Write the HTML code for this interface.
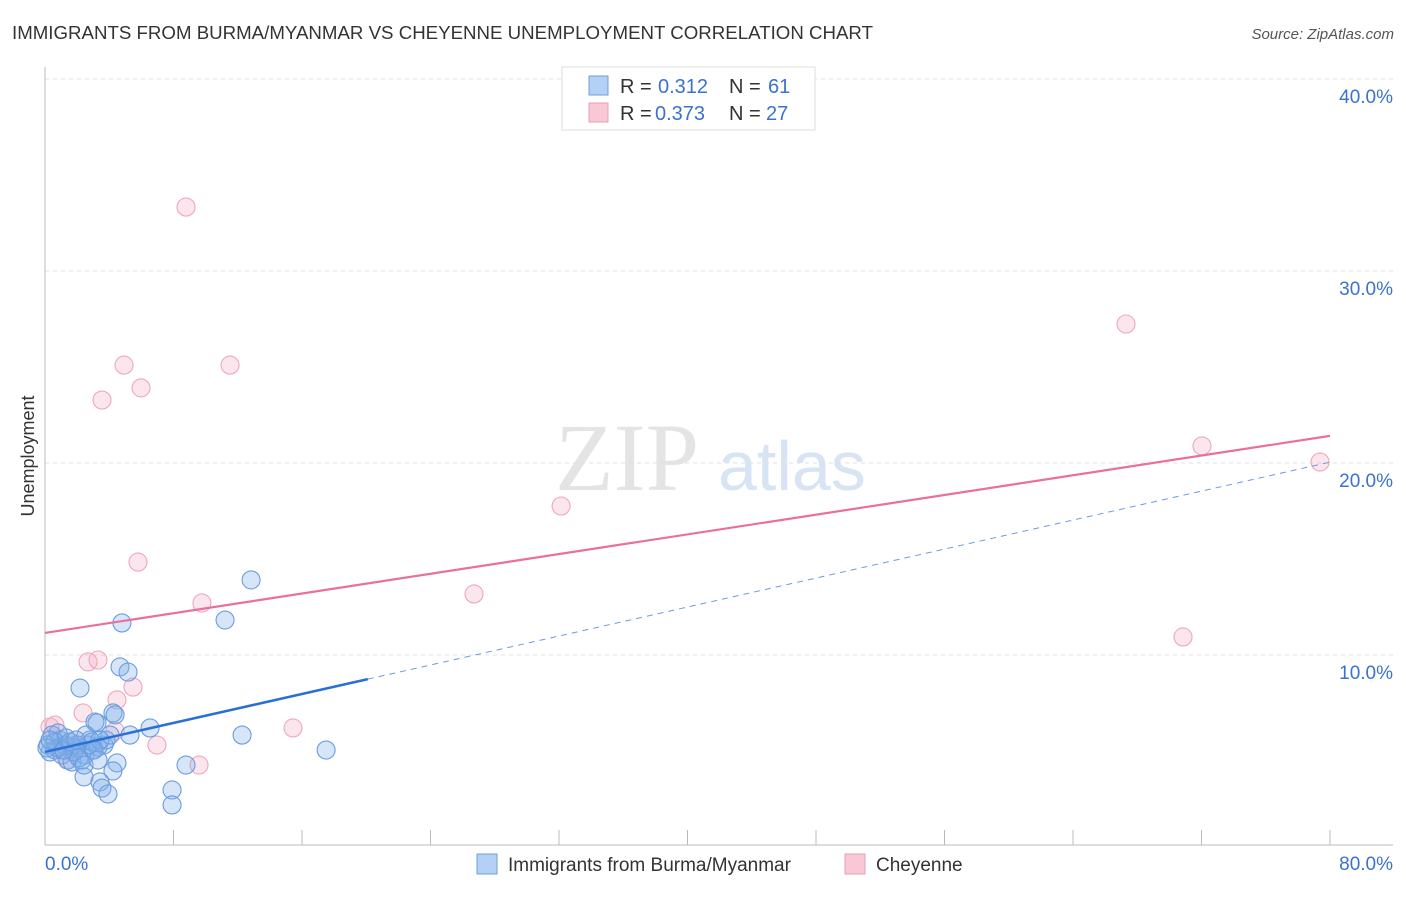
<!DOCTYPE html>
<html><head><meta charset="utf-8"><style>
body{margin:0;background:#fff;font-family:"Liberation Sans",sans-serif;}
</style></head><body>
<svg id="c" width="1406" height="892" xmlns="http://www.w3.org/2000/svg" font-family="Liberation Sans, sans-serif">
<text x="12" y="39" font-size="18" fill="#333" textLength="861" lengthAdjust="spacingAndGlyphs">IMMIGRANTS FROM BURMA/MYANMAR VS CHEYENNE UNEMPLOYMENT CORRELATION CHART</text>
<text x="1394" y="39" font-size="15" fill="#555" font-style="italic" text-anchor="end">Source: ZipAtlas.com</text>
<text x="555" y="490" font-size="96" fill="#e4e4e4" font-family="Liberation Serif, serif">ZIP</text>
<text x="718" y="490" font-size="70" fill="#d8e4f4">atlas</text>
<text transform="translate(34,456) rotate(-90)" font-size="18" fill="#333" text-anchor="middle">Unemployment</text>
<g id="grid"></g><g id="axes"></g><g id="pts"></g><g id="lines"></g>
<g>
<rect x="562" y="67" width="253" height="63" fill="#fff" stroke="#ddd"/>
<rect x="589" y="76" width="19" height="19" fill="#b4d0f4" stroke="#6d9de0"/>
<rect x="589" y="103" width="19" height="19" fill="#f9c8d6" stroke="#eb9cb4"/>
<g font-size="20" fill="#333">
<text x="620" y="93">R =</text><text x="658" y="93" fill="#3a72d0">0.312</text><text x="729" y="93">N =</text><text x="768" y="93" fill="#3a72d0">61</text></g>
<g font-size="20" fill="#333">
<text x="620" y="120">R =</text><text x="655" y="120" fill="#3a72d0">0.373</text><text x="729" y="120">N =</text><text x="766" y="120" fill="#3a72d0">27</text></g>
</g>
<g>
<rect x="477" y="854" width="20" height="20" fill="#b4d0f4" stroke="#6d9de0"/>
<text x="508" y="871" font-size="19" fill="#333">Immigrants from Burma/Myanmar</text>
<rect x="845" y="854" width="20" height="20" fill="#f9c8d6" stroke="#eb9cb4"/>
<text x="876" y="871" font-size="19" fill="#333">Cheyenne</text>
</g>
</svg>
<script>
const blueX=[2.18,4.79,12.83,11.21,4.67,5.17,4.23,4.36,3.24,3.11,6.54,5.29,12.27,17.50,8.78,4.48,4.23,2.43,3.42,3.55,3.92,7.91,7.91,0.93,1.25,1.56,1.87,0.62,0.31,0.19,0.44,0.81,1.06,1.43,1.68,2.05,2.30,2.49,2.68,2.80,2.99,3.30,3.67,3.80,4.05,0.62,0.81,1.31,1.81,2.12,2.55,2.93,3.42,0.12,0.31,1.18,1.56,1.93,2.43,3.05,3.30];
const blueY=[8.28,11.67,13.91,11.82,9.38,9.11,6.98,6.88,6.46,6.51,6.20,5.83,5.83,5.05,4.27,4.38,3.96,3.65,3.39,3.07,2.76,2.97,2.19,5.57,5.31,5.21,5.16,5.05,4.95,5.31,5.83,5.94,4.79,4.53,4.43,5.31,4.53,4.79,5.31,5.57,5.05,5.21,5.31,5.57,5.83,5.47,5.16,5.68,4.95,4.64,5.83,5.47,5.57,5.16,5.57,5.05,5.47,5.57,4.27,5.05,4.53];
const pinkX=[8.78,4.92,11.52,5.98,3.55,67.30,72.03,79.38,32.13,5.79,26.71,9.77,70.85,3.30,2.68,4.48,5.48,2.37,15.44,6.97,9.59,0.62,0.31,1.37,1.87,4.36,1.06];
const pinkY=[33.33,25.10,25.10,23.91,23.28,27.24,20.89,20.05,17.76,14.84,13.18,12.71,10.94,9.74,9.64,7.66,8.33,6.98,6.20,5.31,4.27,6.35,6.25,4.53,5.31,6.04,5.05];
const blueTrend=[4.95,0.1887];
const pinkTrend=[11.15,0.1283];
const xTicks=[0,80];
const yTicks=[10,20,30,40];
const NS="http://www.w3.org/2000/svg";
const X=v=>45+v*(1285/80), Y=v=>847-v*19.2;
function mk(p,t,a){const e=document.createElementNS(NS,t);for(const k in a)e.setAttribute(k,a[k]);document.getElementById(p).appendChild(e);return e;}
yTicks.forEach(t=>{
 const l=mk('grid','line',{x1:45,x2:1393,y1:Y(t),y2:Y(t),stroke:'#e0e0e0','stroke-dasharray':'4,4'});
 
 
 const tx=mk('grid','text',{x:1393,y:Y(t)+24,'font-size':19,fill:'#3a72d0','text-anchor':'end'});tx.textContent=t.toFixed(1)+'%';
 
 
});
let a=mk('axes','line',{x1:45,x2:45,y1:67,y2:845,stroke:'#bbb'});


a=mk('axes','line',{x1:45,x2:1393,y1:845,y2:845,stroke:'#bbb'});


for(let i=0;i<=10;i++){const t=mk('axes','line',{x1:X(i*8),x2:X(i*8),y1:830,y2:845,stroke:'#bbb'});
 
 }
xTicks.forEach((t,i)=>{const tx=mk('axes','text',{x:i?1393:45,y:870,'font-size':19,fill:'#3a72d0','text-anchor':i?'end':'start'});tx.textContent=t.toFixed(1)+'%';
 
 });
pinkX.forEach((x,i)=>{const c=mk('pts','circle',{cx:X(x),cy:Y(pinkY[i]),r:9,fill:'rgba(244,165,190,0.28)',stroke:'#eea7bd','stroke-width':1.1});
 
 });
blueX.forEach((x,i)=>{const c=mk('pts','circle',{cx:X(x),cy:Y(blueY[i]),r:9,fill:'rgba(130,175,235,0.33)',stroke:'#6a9ce0','stroke-width':1.1});
 
 });
let l=mk('lines','line',{x1:X(0),y1:Y(pinkTrend[0]),x2:X(80),y2:Y(pinkTrend[0]+80*pinkTrend[1]),stroke:'#e8709a','stroke-width':2.2});


l=mk('lines','line',{x1:X(0),y1:Y(blueTrend[0]),x2:X(20.1),y2:Y(blueTrend[0]+20.1*blueTrend[1]),stroke:'#2a6fd6','stroke-width':2.5});


l=mk('lines','line',{x1:X(20.1),y1:Y(blueTrend[0]+20.1*blueTrend[1]),x2:X(80),y2:Y(blueTrend[0]+80*blueTrend[1]),stroke:'#6a9be0','stroke-width':1,'stroke-dasharray':'6,5'});


</script>
</body></html>
